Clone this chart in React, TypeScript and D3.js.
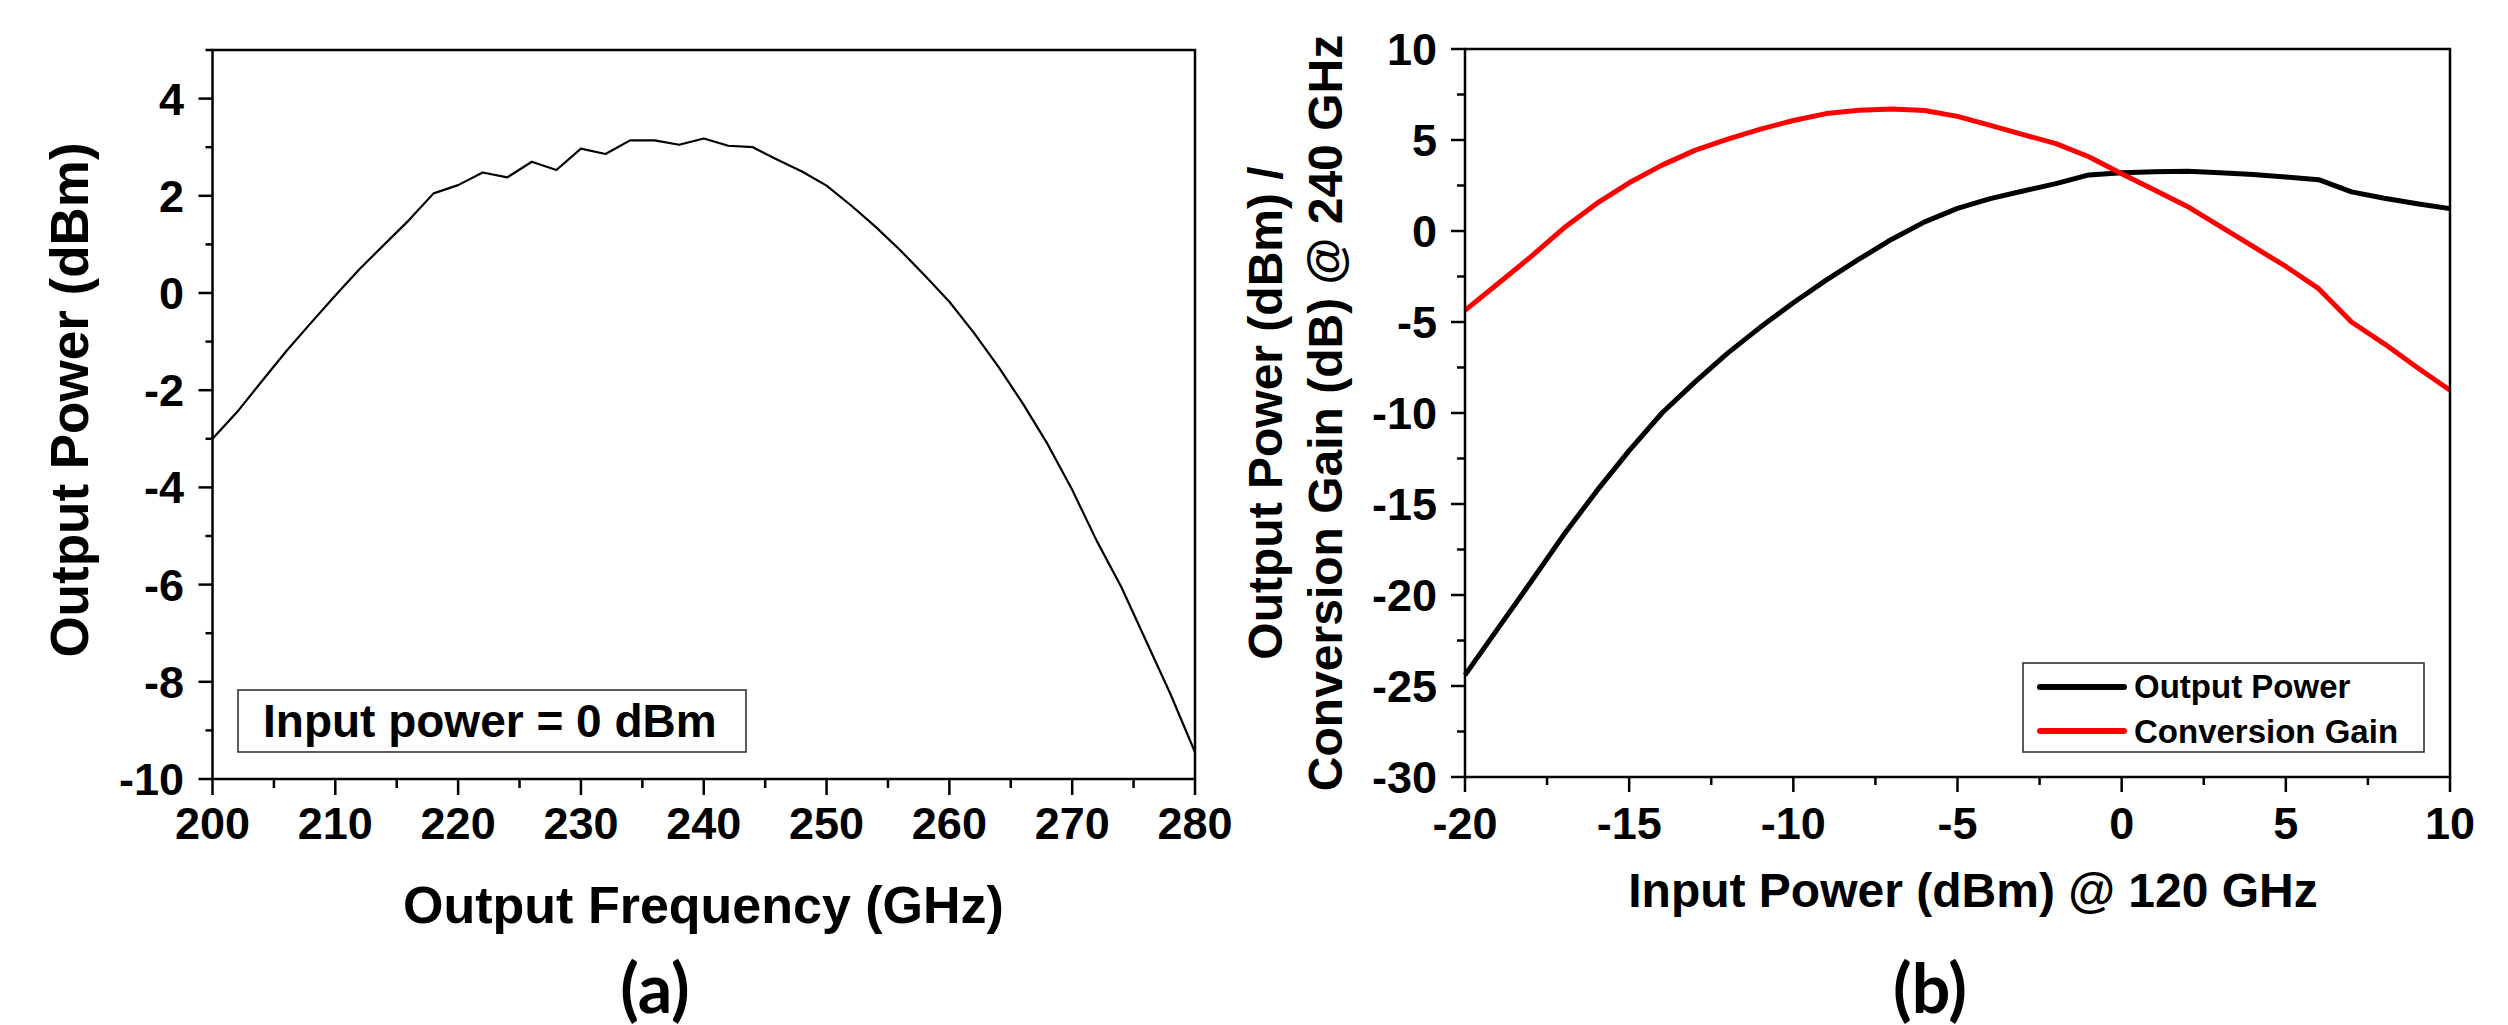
import React from 'react';
import * as d3 from 'd3';

// ---------- Panel (a) data ----------
const freqGHz = [200, 202, 204, 206, 208, 210, 212, 214, 216, 218, 220, 222, 224, 226, 228, 230, 232, 234, 236, 238, 240,
  242, 244, 246, 248, 250, 252, 254, 256, 258, 260, 262, 264, 266, 268, 270, 272, 274, 276, 278, 280];
const outPowerA = [-3.0, -2.45, -1.82, -1.2, -0.62, -0.05, 0.5, 1.0, 1.5, 2.05, 2.22, 2.48, 2.38, 2.7, 2.53, 2.97, 2.86, 3.14, 3.14, 3.05, 3.18,
  3.03, 3.0, 2.74, 2.5, 2.21, 1.8, 1.36, 0.88, 0.36, -0.18, -0.82, -1.52, -2.28, -3.11, -4.05, -5.1, -6.05, -7.15, -8.25, -9.45];
const xTicksA = [200, 210, 220, 230, 240, 250, 260, 270, 280];
const xMinorA = [205, 215, 225, 235, 245, 255, 265, 275];
const yTicksA = [-10, -8, -6, -4, -2, 0, 2, 4];
const yMinorA = [-9, -7, -5, -3, -1, 1, 3, 5];

// ---------- Panel (b) data ----------
const pinDbm = [-20, -19, -18, -17, -16, -15, -14, -13, -12, -11, -10, -9, -8, -7, -6, -5, -4, -3, -2, -1, 0, 1, 2, 3, 4, 5, 6, 7, 8, 9, 10];
const poutDbm = [-24.4, -21.85, -19.3, -16.71, -14.31, -12.07, -10.0, -8.3, -6.71, -5.28, -3.94, -2.7, -1.55, -0.45, 0.5, 1.24, 1.78, 2.2, 2.6, 3.08, 3.2,
  3.25, 3.28, 3.2, 3.1, 2.97, 2.82, 2.15, 1.8, 1.5, 1.23];
const gainDb = [-4.36, -2.9, -1.42, 0.15, 1.5, 2.65, 3.62, 4.43, 5.05, 5.6, 6.07, 6.45, 6.63, 6.7, 6.62, 6.3, 5.8, 5.3, 4.8, 4.08, 3.15,
  2.25, 1.35, 0.25, -0.85, -1.95, -3.17, -5.0, -6.2, -7.5, -8.75];
const xTicksB = [-20, -15, -10, -5, 0, 5, 10];
const xMinorB = [-17.5, -12.5, -7.5, -2.5, 2.5, 7.5];
const yTicksB = [-30, -25, -20, -15, -10, -5, 0, 5, 10];
const yMinorB = [-27.5, -22.5, -17.5, -12.5, -7.5, -2.5, 2.5, 7.5];
const seriesNamesB = ['Output Power', 'Conversion Gain'];
const seriesColorsB = ['#000000', '#ff0000'];

const FONT = '"Liberation Sans", Arial, sans-serif';

type Box = { left: number; right: number; top: number; bottom: number };

function Frame({ box, sw }: { box: Box; sw: number }) {
  return (
    <rect x={box.left} y={box.top} width={box.right - box.left} height={box.bottom - box.top}
      fill="none" stroke="#000" strokeWidth={sw} />
  );
}

export default function App() {
  // panel a
  const boxA: Box = { left: 212.5, right: 1195, top: 50, bottom: 779 };
  const xA = d3.scaleLinear().domain([200, 280]).range([boxA.left, boxA.right]);
  const yA = d3.scaleLinear().domain([-10, 5]).range([boxA.bottom, boxA.top]);
  const lineA = d3.line<number>().x((_, i) => xA(freqGHz[i])).y((d) => yA(d));

  // panel b
  const boxB: Box = { left: 1465, right: 2450, top: 49, bottom: 777 };
  const xB = d3.scaleLinear().domain([-20, 10]).range([boxB.left, boxB.right]);
  const yB = d3.scaleLinear().domain([-30, 10]).range([boxB.bottom, boxB.top]);
  const lineB = d3.line<number>().x((_, i) => xB(pinDbm[i])).y((d) => yB(d));
  const seriesB = [poutDbm, gainDb];

  const tickFont = 45;

  return (
    <svg width={2508} height={1025} style={{ position: 'absolute', left: 0, top: 0, background: '#fff' }}
      fontFamily={FONT}>
      <rect x={0} y={0} width={2508} height={1025} fill="#fff" />

      {/* ===== Panel (a) ===== */}
      <g>
        {xTicksA.map((t) => (
          <g key={'xa' + t}>
            <line x1={xA(t)} x2={xA(t)} y1={boxA.bottom} y2={boxA.bottom + 16} stroke="#000" strokeWidth={2.5} />
            <text x={xA(t)} y={839} textAnchor="middle" fontSize={tickFont} fontWeight="bold">{t}</text>
          </g>
        ))}
        {xMinorA.map((t) => (
          <line key={'xam' + t} x1={xA(t)} x2={xA(t)} y1={boxA.bottom} y2={boxA.bottom + 9} stroke="#000" strokeWidth={2.5} />
        ))}
        {yTicksA.map((t) => (
          <g key={'ya' + t}>
            <line x1={boxA.left - 14} x2={boxA.left} y1={yA(t)} y2={yA(t)} stroke="#000" strokeWidth={2.5} />
            <text x={184} y={yA(t) + 16} textAnchor="end" fontSize={tickFont} fontWeight="bold">{t}</text>
          </g>
        ))}
        {yMinorA.map((t) => (
          <line key={'yam' + t} x1={boxA.left - 7} x2={boxA.left} y1={yA(t)} y2={yA(t)} stroke="#000" strokeWidth={2.5} />
        ))}
        <path d={lineA(outPowerA) || ''} fill="none" stroke="#000" strokeWidth={2.2} strokeLinejoin="round" />
        <Frame box={boxA} sw={2.5} />
        {/* annotation box */}
        <rect x={238} y={690} width={508} height={62} fill="#fff" stroke="#333" strokeWidth={1.6} />
        <text x={263} y={737} fontSize={46} fontWeight="bold">Input power = 0 dBm</text>
        {/* axis titles */}
        <text x={703.5} y={923} textAnchor="middle" fontSize={52} fontWeight="bold">Output Frequency (GHz)</text>
        <text transform="translate(88,400) rotate(-90)" textAnchor="middle" fontSize={53} fontWeight="bold">Output Power (dBm)</text>
        <text x={655} y={1013} textAnchor="middle" fontSize={68} fontWeight="bold" fontFamily="Lato, 'Open Sans', sans-serif">(a)</text>
      </g>

      {/* ===== Panel (b) ===== */}
      <g>
        {xTicksB.map((t) => (
          <g key={'xb' + t}>
            <line x1={xB(t)} x2={xB(t)} y1={boxB.bottom} y2={boxB.bottom + 15} stroke="#000" strokeWidth={2.5} />
            <text x={xB(t)} y={839} textAnchor="middle" fontSize={tickFont} fontWeight="bold">{t}</text>
          </g>
        ))}
        {xMinorB.map((t) => (
          <line key={'xbm' + t} x1={xB(t)} x2={xB(t)} y1={boxB.bottom} y2={boxB.bottom + 8} stroke="#000" strokeWidth={2.5} />
        ))}
        {yTicksB.map((t) => (
          <g key={'yb' + t}>
            <line x1={boxB.left - 14} x2={boxB.left} y1={yB(t)} y2={yB(t)} stroke="#000" strokeWidth={2.5} />
            <text x={1437} y={yB(t) + 16} textAnchor="end" fontSize={tickFont} fontWeight="bold">{t}</text>
          </g>
        ))}
        {yMinorB.map((t) => (
          <line key={'ybm' + t} x1={boxB.left - 8} x2={boxB.left} y1={yB(t)} y2={yB(t)} stroke="#000" strokeWidth={2.5} />
        ))}
        {seriesB.map((s, i) => (
          <path key={'sb' + i} d={lineB(s) || ''} fill="none" stroke={seriesColorsB[i]} strokeWidth={5} strokeLinejoin="round" />
        ))}
        <Frame box={boxB} sw={2.5} />
        {/* legend */}
        <rect x={2023} y={663} width={401} height={89} fill="#fff" stroke="#333" strokeWidth={1.6} />
        {seriesNamesB.map((n, i) => (
          <g key={'lg' + i}>
            <line x1={2040} x2={2124} y1={687 + i * 44} y2={687 + i * 44} stroke={seriesColorsB[i]} strokeWidth={6} strokeLinecap="round" />
            <text x={2134} y={698 + i * 45} fontSize={33} fontWeight="bold">{n}</text>
          </g>
        ))}
        {/* axis titles */}
        <text x={1973} y={907} textAnchor="middle" fontSize={48} fontWeight="bold">Input Power (dBm) @ 120 GHz</text>
        <text transform="translate(1282,413) rotate(-90)" textAnchor="middle" fontSize={48} fontWeight="bold">Output Power (dBm) /</text>
        <text transform="translate(1342,413) rotate(-90)" textAnchor="middle" fontSize={48} fontWeight="bold">Conversion Gain (dB) @ 240 GHz</text>
        <text x={1930} y={1013} textAnchor="middle" fontSize={68} fontWeight="bold" fontFamily="Lato, 'Open Sans', sans-serif">(b)</text>
      </g>
    </svg>
  );
}
